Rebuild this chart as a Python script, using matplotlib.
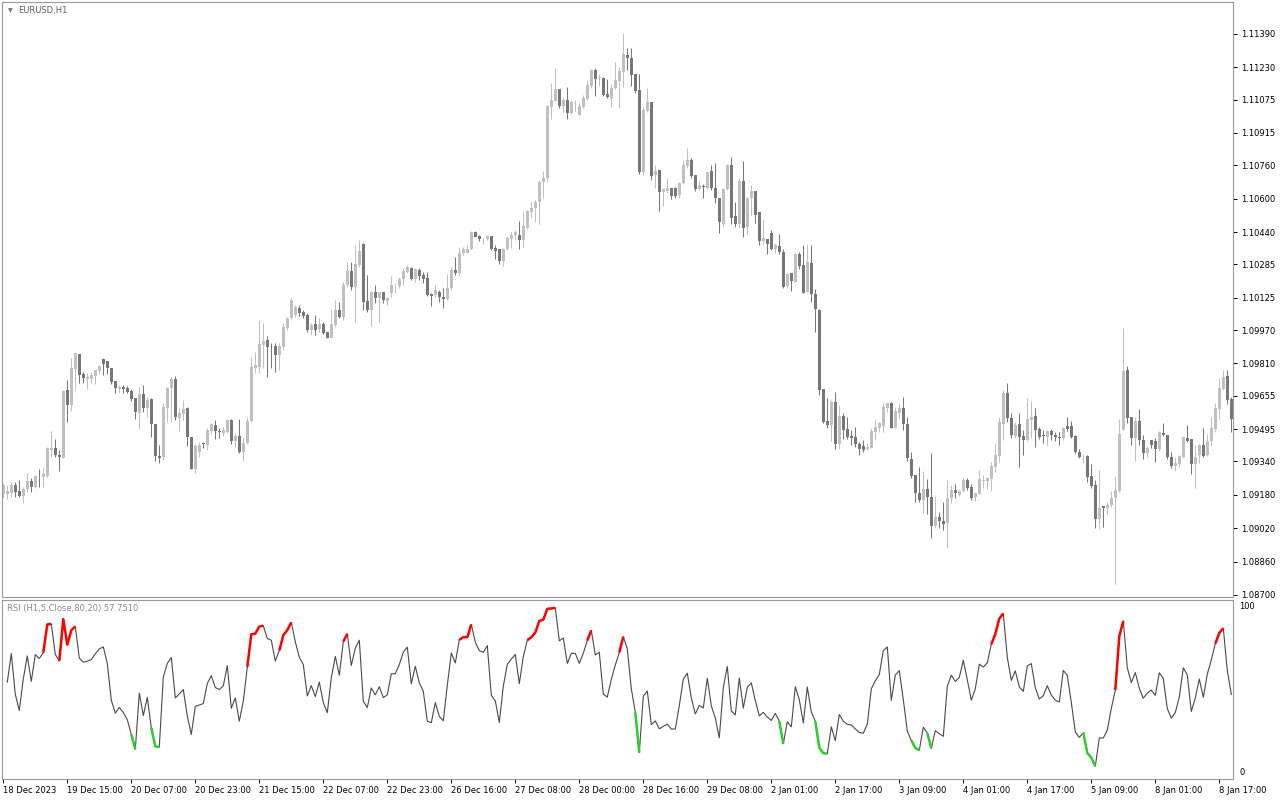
import numpy as np
import pandas as pd
import matplotlib
matplotlib.use('Agg')
import matplotlib.pyplot as plt

# EURUSD H1 candles, 18 Dec 2023 - 8 Jan 2024
opens = [
    1.09184, 1.09182, 1.09190, 1.09227, 1.09198, 1.09176, 1.09206, 1.09246, 1.09219, 1.09270,
    1.09264, 1.09270, 1.09395, 1.09406, 1.09371, 1.09358, 1.09683, 1.09611, 1.09785, 1.09856,
    1.09760, 1.09737, 1.09737, 1.09752, 1.09774, 1.09832, 1.09824, 1.09788, 1.09726, 1.09689,
    1.09697, 1.09694, 1.09679, 1.09646, 1.09574, 1.09663, 1.09598, 1.09638, 1.09520, 1.09368,
    1.09363, 1.09598, 1.09694, 1.09737, 1.09550, 1.09567, 1.09595, 1.09459, 1.09305, 1.09387,
    1.09430, 1.09420, 1.09488, 1.09515, 1.09488, 1.09478, 1.09481, 1.09539, 1.09440, 1.09462,
    1.09385, 1.09427, 1.09534, 1.09789, 1.09794, 1.09898, 1.09922, 1.09890, 1.09893, 1.09850,
    1.09890, 1.09981, 1.10026, 1.10042, 1.10074, 1.10058, 1.10042, 1.09970, 1.09999, 1.09973,
    1.09999, 1.09962, 1.09933, 1.09994, 1.10066, 1.10031, 1.10186, 1.10255, 1.10178, 1.10282,
    1.10383, 1.10111, 1.10066, 1.10154, 1.10122, 1.10154, 1.10111, 1.10146, 1.10184, 1.10181,
    1.10213, 1.10250, 1.10266, 1.10215, 1.10258, 1.10234, 1.10218, 1.10143, 1.10138, 1.10154,
    1.10130, 1.10119, 1.10170, 1.10258, 1.10242, 1.10338, 1.10341, 1.10357, 1.10442, 1.10423,
    1.10405, 1.10405, 1.10420, 1.10364, 1.10358, 1.10300, 1.10358, 1.10406, 1.10425, 1.10428,
    1.10401, 1.10460, 1.10534, 1.10556, 1.10582, 1.10678, 1.10697, 1.11041, 1.11068, 1.11126,
    1.11046, 1.11073, 1.11009, 1.11062, 1.11001, 1.11041, 1.11078, 1.11142, 1.11217, 1.11177,
    1.11180, 1.11102, 1.11084, 1.11129, 1.11164, 1.11206, 1.11289, 1.11276, 1.11196, 1.11121,
    1.10729, 1.11020, 1.11062, 1.10713, 1.10736, 1.10633, 1.10636, 1.10652, 1.10652, 1.10617,
    1.10673, 1.10758, 1.10785, 1.10713, 1.10646, 1.10659, 1.10652, 1.10732, 1.10649, 1.10604,
    1.10478, 1.10646, 1.10762, 1.10519, 1.10477, 1.10685, 1.10466, 1.10602, 1.10637, 1.10538,
    1.10397, 1.10407, 1.10434, 1.10359, 1.10373, 1.10346, 1.10183, 1.10242, 1.10202, 1.10333,
    1.10282, 1.10154, 1.10290, 1.10141, 1.10066, 1.09685, 1.09533, 1.09517, 1.09626, 1.09426,
    1.09559, 1.09495, 1.09464, 1.09459, 1.09424, 1.09416, 1.09398, 1.09406, 1.09483, 1.09502,
    1.09512, 1.09598, 1.09619, 1.09502, 1.09571, 1.09598, 1.09520, 1.09352, 1.09275, 1.09187,
    1.09155, 1.09208, 1.09171, 1.09032, 1.09075, 1.09054, 1.09043, 1.09166, 1.09203, 1.09179,
    1.09198, 1.09251, 1.09216, 1.09171, 1.09185, 1.09246, 1.09246, 1.09256, 1.09315, 1.09368,
    1.09518, 1.09667, 1.09550, 1.09464, 1.09518, 1.09464, 1.09443, 1.09539, 1.09560, 1.09496,
    1.09467, 1.09459, 1.09486, 1.09467, 1.09457, 1.09451, 1.09512, 1.09512, 1.09464, 1.09384,
    1.09365, 1.09368, 1.09270, 1.09227, 1.09063, 1.09126, 1.09118, 1.09131, 1.09166, 1.09199,
    1.09491, 1.09779, 1.09551, 1.09454, 1.09535, 1.09443, 1.09382, 1.09443, 1.09438, 1.09399,
    1.09475, 1.09467, 1.09363, 1.09318, 1.09327, 1.09363, 1.09454, 1.09446, 1.09327, 1.09371,
    1.09419, 1.09371, 1.09438, 1.09495, 1.09591, 1.09687, 1.09750, 1.09638,
]
highs = [
    1.09235, 1.09225, 1.09243, 1.09243, 1.09251, 1.09219, 1.09286, 1.09259, 1.09275, 1.09302,
    1.09315, 1.09411, 1.09488, 1.09446, 1.09395, 1.09683, 1.09731, 1.09835, 1.09862, 1.09856,
    1.09771, 1.09763, 1.09771, 1.09779, 1.09803, 1.09835, 1.09824, 1.09788, 1.09726, 1.09707,
    1.09707, 1.09702, 1.09686, 1.09646, 1.09699, 1.09707, 1.09651, 1.09643, 1.09520, 1.09419,
    1.09622, 1.09699, 1.09747, 1.09750, 1.09595, 1.09635, 1.09603, 1.09459, 1.09424, 1.09435,
    1.09435, 1.09499, 1.09526, 1.09539, 1.09499, 1.09504, 1.09542, 1.09542, 1.09475, 1.09542,
    1.09459, 1.09555, 1.09842, 1.09866, 1.10018, 1.10002, 1.09941, 1.09906, 1.09906, 1.09906,
    1.10002, 1.10031, 1.10122, 1.10090, 1.10090, 1.10066, 1.10050, 1.10002, 1.10042, 1.10026,
    1.10010, 1.09962, 1.10069, 1.10114, 1.10106, 1.10202, 1.10298, 1.10298, 1.10378, 1.10402,
    1.10386, 1.10234, 1.10159, 1.10186, 1.10154, 1.10154, 1.10130, 1.10229, 1.10197, 1.10223,
    1.10266, 1.10282, 1.10271, 1.10266, 1.10266, 1.10250, 1.10250, 1.10146, 1.10186, 1.10162,
    1.10170, 1.10239, 1.10274, 1.10319, 1.10370, 1.10370, 1.10378, 1.10447, 1.10447, 1.10426,
    1.10410, 1.10426, 1.10420, 1.10377, 1.10358, 1.10364, 1.10422, 1.10438, 1.10449, 1.10492,
    1.10540, 1.10545, 1.10588, 1.10593, 1.10689, 1.10732, 1.11049, 1.11153, 1.11228, 1.11126,
    1.11089, 1.11137, 1.11073, 1.11073, 1.11057, 1.11097, 1.11169, 1.11222, 1.11228, 1.11196,
    1.11185, 1.11174, 1.11148, 1.11257, 1.11233, 1.11393, 1.11321, 1.11324, 1.11196, 1.11196,
    1.11046, 1.11129, 1.11062, 1.10761, 1.10736, 1.10649, 1.10700, 1.10652, 1.10657, 1.10681,
    1.10785, 1.10841, 1.10793, 1.10713, 1.10684, 1.10668, 1.10729, 1.10761, 1.10769, 1.10604,
    1.10649, 1.10764, 1.10802, 1.10586, 1.10701, 1.10781, 1.10610, 1.10666, 1.10637, 1.10538,
    1.10503, 1.10407, 1.10450, 1.10386, 1.10429, 1.10359, 1.10242, 1.10242, 1.10338, 1.10346,
    1.10378, 1.10381, 1.10378, 1.10167, 1.10071, 1.09685, 1.09642, 1.09634, 1.09674, 1.09610,
    1.09570, 1.09554, 1.09491, 1.09507, 1.09432, 1.09443, 1.09427, 1.09502, 1.09539, 1.09531,
    1.09619, 1.09619, 1.09624, 1.09603, 1.09619, 1.09651, 1.09555, 1.09387, 1.09275, 1.09315,
    1.09294, 1.09256, 1.09379, 1.09176, 1.09096, 1.09144, 1.09251, 1.09227, 1.09230, 1.09203,
    1.09267, 1.09262, 1.09230, 1.09195, 1.09299, 1.09275, 1.09267, 1.09336, 1.09427, 1.09555,
    1.09683, 1.09715, 1.09571, 1.09528, 1.09571, 1.09491, 1.09643, 1.09630, 1.09595, 1.09507,
    1.09491, 1.09491, 1.09496, 1.09483, 1.09483, 1.09507, 1.09555, 1.09534, 1.09467, 1.09400,
    1.09374, 1.09371, 1.09327, 1.09251, 1.09299, 1.09126, 1.09147, 1.09199, 1.09270, 1.09542,
    1.09979, 1.09798, 1.09555, 1.09555, 1.09590, 1.09467, 1.09414, 1.09443, 1.09451, 1.09487,
    1.09523, 1.09467, 1.09387, 1.09363, 1.09371, 1.09459, 1.09515, 1.09446, 1.09419, 1.09424,
    1.09499, 1.09471, 1.09551, 1.09622, 1.09739, 1.09779, 1.09779, 1.09651,
]
lows = [
    1.09171, 1.09158, 1.09171, 1.09168, 1.09171, 1.09139, 1.09195, 1.09195, 1.09211, 1.09219,
    1.09219, 1.09267, 1.09363, 1.09363, 1.09295, 1.09355, 1.09528, 1.09584, 1.09683, 1.09718,
    1.09718, 1.09686, 1.09718, 1.09712, 1.09760, 1.09755, 1.09760, 1.09712, 1.09667, 1.09670,
    1.09670, 1.09670, 1.09632, 1.09544, 1.09497, 1.09579, 1.09555, 1.09459, 1.09344, 1.09331,
    1.09347, 1.09531, 1.09531, 1.09539, 1.09488, 1.09539, 1.09414, 1.09302, 1.09286, 1.09363,
    1.09403, 1.09395, 1.09478, 1.09446, 1.09451, 1.09462, 1.09475, 1.09424, 1.09411, 1.09379,
    1.09344, 1.09424, 1.09530, 1.09762, 1.09762, 1.09786, 1.09746, 1.09786, 1.09770, 1.09778,
    1.09874, 1.09970, 1.10018, 1.10034, 1.10037, 1.10026, 1.09962, 1.09946, 1.09946, 1.09962,
    1.09951, 1.09930, 1.09930, 1.09986, 1.10026, 1.10018, 1.10178, 1.10162, 1.10010, 1.10274,
    1.10066, 1.10058, 1.09989, 1.10101, 1.10010, 1.10098, 1.10090, 1.10127, 1.10146, 1.10170,
    1.10186, 1.10242, 1.10210, 1.10202, 1.10210, 1.10194, 1.10133, 1.10085, 1.10127, 1.10106,
    1.10074, 1.10114, 1.10162, 1.10234, 1.10234, 1.10330, 1.10338, 1.10354, 1.10415, 1.10399,
    1.10383, 1.10402, 1.10353, 1.10313, 1.10289, 1.10278, 1.10353, 1.10364, 1.10401, 1.10361,
    1.10369, 1.10454, 1.10505, 1.10489, 1.10478, 1.10604, 1.10681, 1.10982, 1.11068, 1.11033,
    1.11014, 1.10982, 1.11004, 1.11020, 1.11001, 1.11036, 1.11073, 1.11132, 1.11094, 1.11142,
    1.11094, 1.11081, 1.11041, 1.11126, 1.11036, 1.11137, 1.11217, 1.11142, 1.11105, 1.10716,
    1.10713, 1.11014, 1.10689, 1.10652, 1.10540, 1.10566, 1.10625, 1.10598, 1.10604, 1.10604,
    1.10668, 1.10748, 1.10700, 1.10636, 1.10641, 1.10604, 1.10646, 1.10641, 1.10577, 1.10433,
    1.10465, 1.10641, 1.10477, 1.10466, 1.10461, 1.10418, 1.10429, 1.10522, 1.10482, 1.10378,
    1.10378, 1.10333, 1.10354, 1.10338, 1.10333, 1.10173, 1.10173, 1.10157, 1.10199, 1.10263,
    1.10146, 1.10151, 1.10103, 1.09962, 1.09658, 1.09522, 1.09498, 1.09437, 1.09399, 1.09399,
    1.09450, 1.09450, 1.09419, 1.09411, 1.09371, 1.09384, 1.09395, 1.09403, 1.09443, 1.09483,
    1.09480, 1.09579, 1.09502, 1.09499, 1.09547, 1.09491, 1.09342, 1.09262, 1.09147, 1.09147,
    1.09091, 1.09086, 1.08971, 1.09019, 1.09022, 1.09011, 1.08923, 1.09139, 1.09166, 1.09176,
    1.09195, 1.09203, 1.09155, 1.09150, 1.09182, 1.09211, 1.09208, 1.09198, 1.09288, 1.09336,
    1.09443, 1.09531, 1.09454, 1.09454, 1.09315, 1.09371, 1.09438, 1.09451, 1.09411, 1.09448,
    1.09427, 1.09416, 1.09443, 1.09438, 1.09419, 1.09443, 1.09486, 1.09451, 1.09379, 1.09358,
    1.09331, 1.09240, 1.09215, 1.09019, 1.09014, 1.09027, 1.09087, 1.09123, 1.08751, 1.09195,
    1.09491, 1.09523, 1.09419, 1.09343, 1.09419, 1.09350, 1.09359, 1.09403, 1.09339, 1.09391,
    1.09462, 1.09350, 1.09307, 1.09295, 1.09312, 1.09355, 1.09435, 1.09279, 1.09215, 1.09334,
    1.09363, 1.09366, 1.09414, 1.09483, 1.09542, 1.09683, 1.09615, 1.09482,
]
closes = [
    1.09227, 1.09198, 1.09227, 1.09195, 1.09176, 1.09208, 1.09246, 1.09219, 1.09272, 1.09268,
    1.09280, 1.09403, 1.09406, 1.09371, 1.09363, 1.09679, 1.09611, 1.09790, 1.09859, 1.09756,
    1.09742, 1.09747, 1.09755, 1.09779, 1.09800, 1.09808, 1.09787, 1.09723, 1.09691, 1.09699,
    1.09689, 1.09675, 1.09640, 1.09579, 1.09663, 1.09598, 1.09635, 1.09518, 1.09366, 1.09358,
    1.09603, 1.09694, 1.09737, 1.09555, 1.09574, 1.09592, 1.09459, 1.09305, 1.09414, 1.09419,
    1.09424, 1.09491, 1.09520, 1.09488, 1.09483, 1.09491, 1.09539, 1.09440, 1.09462, 1.09385,
    1.09427, 1.09534, 1.09794, 1.09802, 1.09903, 1.09917, 1.09890, 1.09887, 1.09850, 1.09893,
    1.09983, 1.10026, 1.10114, 1.10079, 1.10050, 1.10037, 1.09970, 1.09994, 1.09970, 1.09999,
    1.09957, 1.09933, 1.09999, 1.10066, 1.10031, 1.10186, 1.10255, 1.10178, 1.10285, 1.10351,
    1.10106, 1.10066, 1.10154, 1.10122, 1.10154, 1.10114, 1.10122, 1.10186, 1.10186, 1.10213,
    1.10255, 1.10274, 1.10215, 1.10261, 1.10231, 1.10215, 1.10138, 1.10133, 1.10162, 1.10130,
    1.10119, 1.10170, 1.10258, 1.10242, 1.10341, 1.10357, 1.10357, 1.10442, 1.10418, 1.10407,
    1.10405, 1.10423, 1.10358, 1.10348, 1.10300, 1.10358, 1.10412, 1.10428, 1.10441, 1.10401,
    1.10468, 1.10540, 1.10556, 1.10582, 1.10681, 1.10697, 1.11046, 1.11073, 1.11126, 1.11046,
    1.11073, 1.11009, 1.11065, 1.11065, 1.11046, 1.11084, 1.11145, 1.11217, 1.11174, 1.11185,
    1.11097, 1.11089, 1.11129, 1.11169, 1.11212, 1.11292, 1.11273, 1.11193, 1.11116, 1.10726,
    1.11025, 1.11062, 1.10710, 1.10732, 1.10633, 1.10644, 1.10652, 1.10614, 1.10614, 1.10673,
    1.10761, 1.10785, 1.10710, 1.10644, 1.10665, 1.10657, 1.10729, 1.10649, 1.10601, 1.10486,
    1.10646, 1.10761, 1.10509, 1.10477, 1.10685, 1.10461, 1.10605, 1.10637, 1.10522, 1.10397,
    1.10413, 1.10381, 1.10359, 1.10378, 1.10343, 1.10178, 1.10237, 1.10205, 1.10333, 1.10279,
    1.10149, 1.10295, 1.10143, 1.10069, 1.09682, 1.09527, 1.09514, 1.09626, 1.09426, 1.09559,
    1.09490, 1.09458, 1.09454, 1.09424, 1.09400, 1.09395, 1.09411, 1.09486, 1.09507, 1.09523,
    1.09603, 1.09619, 1.09502, 1.09582, 1.09598, 1.09518, 1.09355, 1.09272, 1.09187, 1.09155,
    1.09208, 1.09171, 1.09032, 1.09075, 1.09054, 1.09038, 1.09163, 1.09203, 1.09187, 1.09198,
    1.09251, 1.09214, 1.09166, 1.09190, 1.09256, 1.09251, 1.09262, 1.09320, 1.09371, 1.09531,
    1.09667, 1.09550, 1.09467, 1.09515, 1.09459, 1.09443, 1.09544, 1.09555, 1.09491, 1.09456,
    1.09464, 1.09486, 1.09467, 1.09457, 1.09454, 1.09502, 1.09496, 1.09459, 1.09384, 1.09363,
    1.09368, 1.09267, 1.09222, 1.09063, 1.09119, 1.09118, 1.09131, 1.09167, 1.09203, 1.09471,
    1.09775, 1.09550, 1.09454, 1.09535, 1.09443, 1.09382, 1.09406, 1.09419, 1.09399, 1.09483,
    1.09467, 1.09363, 1.09318, 1.09331, 1.09366, 1.09455, 1.09439, 1.09327, 1.09363, 1.09419,
    1.09366, 1.09439, 1.09499, 1.09595, 1.09691, 1.09747, 1.09635, 1.09544,
]

time_labels = ['18 Dec 2023', '19 Dec 15:00', '20 Dec 07:00', '20 Dec 23:00', '21 Dec 15:00',
               '22 Dec 07:00', '22 Dec 23:00', '26 Dec 16:00', '27 Dec 08:00', '28 Dec 00:00',
               '28 Dec 16:00', '29 Dec 08:00', '2 Jan 01:00', '2 Jan 17:00', '3 Jan 09:00',
               '4 Jan 01:00', '4 Jan 17:00', '5 Jan 09:00', '8 Jan 01:00', '8 Jan 17:00']
time_label_bars = [0, 16, 32, 48, 64, 80, 96, 112, 128, 144, 160, 176, 192, 208, 224,
                   240, 256, 272, 288, 304]
price_ticks = [1.11390, 1.11230, 1.11075, 1.10915, 1.10760, 1.10600, 1.10440, 1.10285,
               1.10125, 1.09970, 1.09810, 1.09655, 1.09495, 1.09340, 1.09180, 1.09020,
               1.08860, 1.08700]

rsi_period = 5
rsi_upper, rsi_lower = 80, 20

plt.rcParams['font.family'] = ['DejaVu Sans']

o = np.array(opens)
h = np.array(highs)
l = np.array(lows)
c = np.array(closes)
bars = np.arange(len(c))

# RSI(5) on close, Wilder-style smoothing
cl = pd.Series(c)
prev = cl.shift(1)
prev.iloc[0] = o[0]
delta = cl - prev
gain = delta.clip(lower=0).ewm(alpha=1 / rsi_period, adjust=True).mean()
loss = (-delta).clip(lower=0).ewm(alpha=1 / rsi_period, adjust=True).mean()
rsi = (100 * gain / (gain + loss)).to_numpy()
rsi[0] = np.nan

hi = rsi > rsi_upper
lo = rsi < rsi_lower
hi_mask = hi | np.append(hi[1:], False)
lo_mask = lo | np.append(lo[1:], False)
rsi_red = np.where(hi_mask, rsi, np.nan)
rsi_green = np.where(lo_mask, rsi, np.nan)

W, H = 1280, 800
fig = plt.figure(figsize=(W / 100, H / 100), dpi=100)
fig.patch.set_facecolor('white')
left, right = 2, 1233
ax = fig.add_axes([left / W, 1 - 597 / H, (right - left) / W, (597 - 2) / H])
ax2 = fig.add_axes([left / W, 1 - 779 / H, (right - left) / W, (779 - 600) / H])

xmin = -1.3 / 4
xmax = xmin + (right - left) / 4

# candles
bull, bear = '#c0c0c0', '#777777'
cols = np.where(c >= o, bull, bear)
ax.vlines(bars, l, h, colors=cols, lw=0.75)
body = np.maximum(np.abs(c - o), 0.00003)
ax.bar(bars, body, bottom=np.minimum(o, c), width=0.75, color=cols, linewidth=0)

ax.set_xlim(xmin, xmax)
ax.set_ylim(1.08690, 1.11543)
ax.yaxis.tick_right()
ax.set_yticks(price_ticks)
ax.set_yticklabels([f'{p:.5f}' for p in price_ticks])
ax.tick_params(axis='y', labelsize=6, length=3, width=0.7, pad=3, colors='#000000')
ax.set_xticks([])
ax.text(8 / (right - left), 1 - 9 / 595, '\u25bc', transform=ax.transAxes, fontsize=4.5,
        color='#707070', va='center', ha='center')
ax.text(16 / (right - left), 1 - 9 / 595, 'EURUSD,H1', transform=ax.transAxes, fontsize=6,
        color='#606060', va='center', ha='left')

# RSI panel
ax2.plot(bars, rsi, color='#4a4a4a', lw=0.8)
ax2.plot(bars, rsi_red, color='#ff0000', lw=1.8, solid_capstyle='butt')
ax2.plot(bars, rsi_green, color='#2ecc2e', lw=1.8, solid_capstyle='butt')
ax2.set_xlim(xmin, xmax)
ax2.set_ylim(-2, 102)
ax2.set_yticks([])
ytr = ax2.get_yaxis_transform()
ax2.text(1 + 6 / (right - left), 98, '100', transform=ytr, fontsize=6, va='center', ha='left')
ax2.text(1 + 6 / (right - left), 2, '0', transform=ytr, fontsize=6, va='center', ha='left')
ax2.set_xticks(time_label_bars)
ax2.set_xticklabels(time_labels, ha='left')
ax2.tick_params(axis='x', labelsize=6, length=3, width=0.7, pad=2, colors='#000000')
ax2.text(5 / (right - left), 1 - 9 / 179, 'RSI (H1,5,Close,80,20) 57.7510',
         transform=ax2.transAxes, fontsize=6, color='#8a8a8a', va='center', ha='left')

for a in (ax, ax2):
    for s in a.spines.values():
        s.set_color('#9a9a9a')
        s.set_linewidth(0.8)
    a.set_facecolor('white')

fig.savefig('out.png', dpi=100)
